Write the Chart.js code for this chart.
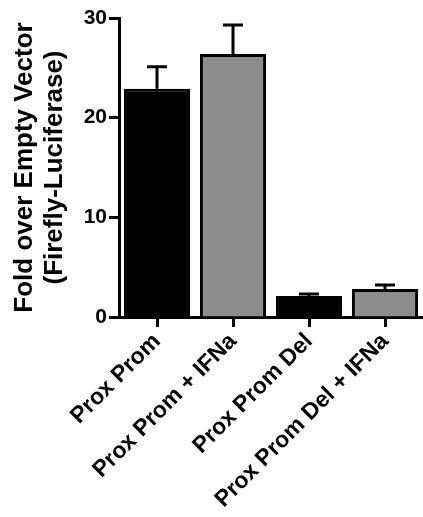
<!DOCTYPE html>
<html><head><meta charset="utf-8">
<script src="https://cdn.jsdelivr.net/npm/chart.js@4/dist/chart.umd.min.js"></script>
<style>html,body{margin:0;padding:0;background:#fff;overflow:hidden}#wrap{width:423px;height:517px}</style>
</head><body><div id="wrap"><canvas id="c" width="423" height="517"></canvas></div>
<script>
const categories = ["Prox Prom", "Prox Prom + IFNa", "Prox Prom Del", "Prox Prom Del + IFNa"];
const means = [22.9, 26.4, 2.1, 2.8];
const errors = [2.2, 2.9, 0.2, 0.4];
const barColors = ["#000000", "#8c8c8c", "#000000", "#8c8c8c"];
const yTicks = [0, 10, 20, 30];
const yTitle = ["Fold over Empty Vector", "(Firefly-Luciferase)"];

const errorBars = {
  id: 'errorBars',
  afterDatasetsDraw(chart) {
    const ctx = chart.ctx, y = chart.scales.y, meta = chart.getDatasetMeta(0);
    ctx.save();
    ctx.strokeStyle = '#000'; ctx.lineWidth = 3; ctx.lineCap = 'butt';
    meta.data.forEach((bar, i) => {
      const x = bar.x, y0 = y.getPixelForValue(means[i]), y1 = y.getPixelForValue(means[i] + errors[i]);
      ctx.beginPath();
      ctx.moveTo(x, y0); ctx.lineTo(x, y1);
      ctx.moveTo(x - 10, y1); ctx.lineTo(x + 10, y1);
      ctx.stroke();
    });
    ctx.restore();
  }
};

new Chart(document.getElementById('c'), {
  type: 'bar',
  data: { labels: categories, datasets: [{ data: means, backgroundColor: barColors, borderColor: '#000', borderWidth: 3, barPercentage: 0.87, categoryPercentage: 1 }] },
  options: {
    responsive: false, animation: false, devicePixelRatio: 1,
    layout: { padding: { top: 18, right: 0, bottom: 0, left: 0 } },
    plugins: { legend: { display: false }, tooltip: { enabled: false } },
    scales: {
      x: {
        grid: { display: true, drawOnChartArea: false, drawTicks: true, offset: false, tickLength: 10, tickWidth: 3, tickColor: '#000' },
        border: { display: true, width: 3, color: '#000' },
        ticks: { color: '#000', minRotation: 45, maxRotation: 45, padding: 1, font: { family: 'Liberation Sans', weight: 'bold', size: 23 } },
        afterFit(s) { s.height = 200; }
      },
      y: {
        min: 0, max: 30,
        afterBuildTicks(s) { s.ticks = yTicks.map(v => ({ value: v })); },
        grid: { display: true, drawOnChartArea: false, drawTicks: true, tickLength: 10, tickWidth: 3, tickColor: '#000' },
        border: { display: true, width: 3, color: '#000' },
        ticks: { color: '#000', padding: 2, font: { family: 'Liberation Sans', weight: 'bold', size: 21 } },
        title: { display: true, text: yTitle, color: '#000', padding: { top: 10, bottom: 0 }, font: { family: 'Liberation Sans', weight: 'bold', size: 26, lineHeight: 1.15 } },
        afterFit(s) { s.width = 119; }
      }
    }
  },
  plugins: [errorBars]
});
</script></body></html>
